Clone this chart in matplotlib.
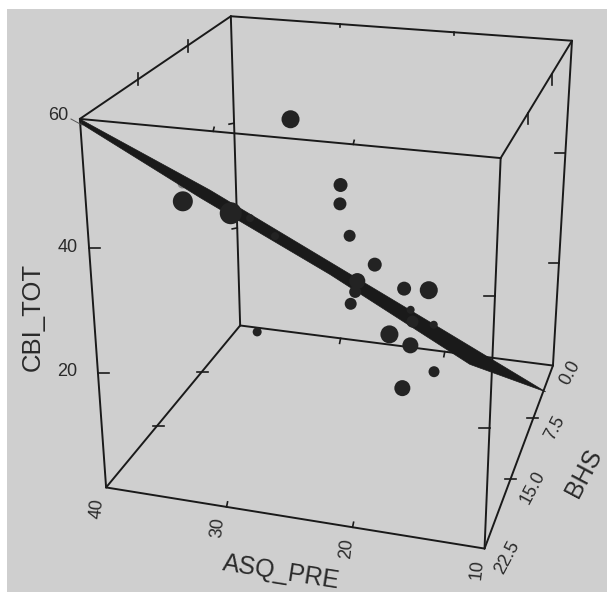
import numpy as np
import matplotlib
matplotlib.use("Agg")
import matplotlib.pyplot as plt
from matplotlib.patches import Rectangle, Polygon

plt.rcParams['font.family'] = ['Liberation Sans', 'DejaVu Sans']

# Data
asq_pre = [27.3, 34.3, 43.5, 28.9, 26.1, 26.8, 26.6, 23.2, 23.4, 26.1, 26.5, 20.7, 16.6, 21.0, 19.6, 19.0, 19.5, 19.6, 37.5, 38.7, 21.1, 23.3, 36.3]
bhs = [16.1, 19.3, 3.2, 22.5, 9.6, 8.0, 6.4, 9.6, 12.9, 6.4, 6.4, 9.6, 16.1, 6.4, 16.1, 12.9, 4.8, 12.9, 1.6, 0.0, 0.0, 0.0, 0.0]
cbi_tot = [56.2, 45.2, 31.0, 47.7, 40.2, 35.3, 28.1, 27.2, 28.0, 18.0, 15.7, 23.6, 31.8, 13.8, 23.8, 18.1, 2.7, 10.4, 1.6, 22.2, 5.4, 7.8, 19.2]
plane_asq = [40.7, 37.7, 19.2, 10.1, 14.6, 24.5, 32.4, 39.9]
plane_bhs = [21.4, 9.0, 4.5, 2.2, 11.2, 15.7, 20.2, 22.5]
plane_cbi = [58.2, 36.4, 10.8, -2.0, 13.8, 32.0, 47.0, 58.6]
asq_range = (10, 40)
bhs_range = (0, 22.5)
cbi_range = (0.3, 59.3)
asq_ticks = [40, 30, 20, 10]
bhs_ticks = ['0.0', '7.5', '15.0', '22.5']
cbi_ticks = [20, 40, 60]

CAM = np.array([[-299.0959, -162.25167, -29.40576, 552.94813],
                [-21.49372, 76.78293, -328.24664, 365.54102],
                [0.05702, -0.19367, -0.08469, 1.0]])


def project(a, b, c):
    a, b, c = np.atleast_1d(a, b, c)
    u = (np.asarray(a, float) - asq_range[0]) / (asq_range[1] - asq_range[0])
    v = (np.asarray(b, float) - bhs_range[0]) / (bhs_range[1] - bhs_range[0])
    w = (np.asarray(c, float) - cbi_range[0]) / (cbi_range[1] - cbi_range[0])
    h = CAM @ np.vstack([u, v, w, np.ones_like(u)])
    return h[0] / h[2], h[1] / h[2]


INK = '#1a1a1a'
LW = 1.4
fig = plt.figure(figsize=(6.07, 5.92), dpi=100, facecolor='white')
ax = fig.add_axes([0, 0, 1, 1])
ax.set_xlim(0, 607)
ax.set_ylim(592, 0)
ax.axis('off')
ax.add_patch(Rectangle((7, 9), 600, 583, fc='#cfcfcf', ec='none', zorder=0))

A0, A1 = asq_range
B0, B1 = bhs_range
C0, C1 = cbi_range


def seg(p, q):
    xs, ys = project([p[0], q[0]], [p[1], q[1]], [p[2], q[2]])
    ax.plot(xs, ys, color=INK, lw=LW, solid_capstyle='round', zorder=2)


for b in (B0, B1):
    seg((A0, b, C0), (A1, b, C0))
    seg((A0, b, C1), (A1, b, C1))
    for a in (A0, A1):
        seg((a, b, C0), (a, b, C1))
for a in (A0, A1):
    seg((a, B0, C0), (a, B1, C0))
    seg((a, B0, C1), (a, B1, C1))


def tick(a, b, c, d0, d1):
    x, y = project(a, b, c)
    ax.plot([x[0] + d0[0], x[0] + d1[0]], [y[0] + d0[1], y[0] + d1[1]],
            color=INK, lw=LW * 0.85, zorder=2)


for c in (20, 40):
    tick(A1, B1, c, (0, 0), (11, 0))
    tick(A0, B1, c, (0, 0), (-11, 0))
    tick(A0, B0, c, (0, 0), (-10, 0))
    tick(A1, B0, c, (0, 0), (-5, 1))
for b in (7.5, 15.0):
    tick(A1, b, C1, (0, -6), (0, 6))
    tick(A0, b, C1, (0, 0), (0, 11))
    tick(A1, b, C0, (-4, 0), (7, 0))
    tick(A0, b, C0, (-6, 0), (5, 0))
for a in (20, 30):
    tick(a, B1, C1, (0, 0), (1, -4))
    tick(a, B1, C0, (0, 0), (1, -5))
    tick(a, B0, C0, (0, 0), (-1, 5))
    tick(a, B0, C1, (0, 0), (0, 3))

# Regression plane, seen almost edge on
px, py = project(plane_asq, plane_bhs, plane_cbi)
ax.add_patch(Polygon(np.c_[px, py], closed=True, fc=INK, ec=INK, lw=0.5, zorder=4))

# Points: nearer points (high BHS) are drawn larger
sx, sy = project(asq_pre, bhs, cbi_tot)
radius_px = 4 + 7 * np.asarray(bhs) / 22.5
sizes = (2 * radius_px * 0.72) ** 2
behind = np.asarray(asq_pre) > 40
ax.scatter(sx[behind], sy[behind], s=sizes[behind], c='#8a8a8a', linewidths=0, zorder=3)
ax.scatter(sx[~behind], sy[~behind], s=sizes[~behind], c='#232323', linewidths=0, zorder=5)

# Leader line for the 60 label
ax.plot([71, 82], [119, 125], color='#555555', lw=0.7, zorder=2)

TK = dict(fontsize=13, color='#2a2a2a', ha='center', va='center', rotation_mode='anchor', zorder=6)
for lab, (x, y) in zip(cbi_ticks, [(67, 372), (68, 247), (58, 115)]):
    ax.text(x, y, str(lab), **TK)
for lab, (x, y) in zip(asq_ticks, [(97, 509), (218, 528), (347, 549), (477, 570)]):
    ax.text(x, y, str(lab), rotation=84, **TK)
for lab, (x, y) in zip(bhs_ticks, [(570, 373), (555, 428), (533, 487), (507, 557)]):
    ax.text(x, y, lab, rotation=62, **TK)

ax.text(33, 317, 'CBI_TOT', rotation=90, fontsize=18.5, color='#2a2a2a',
        ha='center', va='center', rotation_mode='anchor', zorder=6)
ax.text(281, 572, 'ASQ_PRE', rotation=-9, fontsize=18, color='#2a2a2a',
        ha='center', va='center', rotation_mode='anchor', zorder=6)
ax.text(584, 473, 'BHS', rotation=62, fontsize=18, color='#2a2a2a',
        ha='center', va='center', rotation_mode='anchor', zorder=6)

fig.savefig('out.png', dpi=100, facecolor='white')
